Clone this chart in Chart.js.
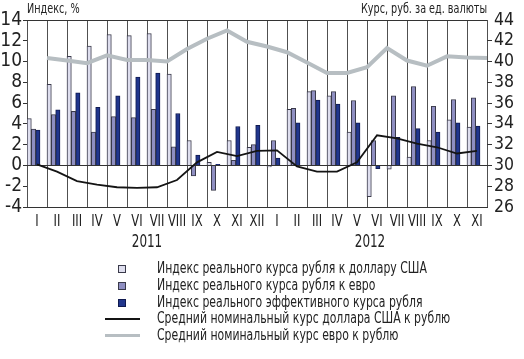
<!DOCTYPE html>
<html><head><meta charset="utf-8">
<script src="https://cdn.jsdelivr.net/npm/chart.js@4"></script>
<style>
html,body{margin:0;padding:0;background:#fff;}
#wrap{position:relative;width:524px;height:359px;overflow:hidden;}
canvas{display:block;}
#legend{position:absolute;left:0;top:0;width:524px;height:359px;font-family:'DejaVu Sans Condensed','DejaVu Sans',sans-serif;font-size:15.5px;color:#222;pointer-events:none;}
.item{position:absolute;left:0;height:17px;width:524px;}
.mk{position:absolute;box-sizing:border-box;}
.tx{position:absolute;left:157px;top:0;white-space:nowrap;line-height:17px;transform:scaleX(0.78);transform-origin:0 50%;}
</style></head><body>
<div id="wrap"><canvas id="c" width="524" height="359"></canvas><div id="legend"></div></div>
<script>
const FAM = "'DejaVu Sans Condensed','DejaVu Sans',sans-serif";
const months = ['I','II','III','IV','V','VI','VII','VIII','IX','X','XI','XII','I','II','III','IV','V','VI','VII','VIII','IX','X','XI'];
const years = ['2011','2012'];
const leftTicks = [-4,-2,0,2,4,6,8,10,12,14];
const rightTicks = [26,28,30,32,34,36,38,40,42,44];
const leftTitle = 'Индекс, %';
const rightTitle = 'Курс, руб. за ед. валюты';
const seriesNames = [
  'Индекс реального курса рубля к доллару США',
  'Индекс реального курса рубля к евро',
  'Индекс реального эффективного курса рубля',
  'Средний номинальный курс доллара США к рублю',
  'Средний номинальный курс евро к рублю'
];
const usdIndex = [4.5,7.8,10.5,11.5,12.6,12.5,12.7,8.8,2.4,0.3,2.4,1.75,-0.15,5.4,7.1,6.7,3.2,-3.0,-0.35,0.8,2.4,4.4,3.7];
const eurIndex = [3.5,4.9,5.2,3.2,4.7,4.6,5.4,1.8,-1.0,-2.4,0.5,2.0,2.4,5.5,7.2,7.1,6.25,2.4,6.7,7.6,5.7,6.35,6.5];
const effIndex = [3.4,5.35,7.0,5.6,6.7,8.5,8.9,5.0,1.0,0.1,3.75,3.85,0.7,4.1,6.3,5.9,4.1,-0.3,2.7,3.55,3.2,4.1,3.8];
const usdRate = [30.1,29.4,28.5,28.15,27.9,27.85,27.9,28.6,30.3,31.3,30.9,31.4,31.45,29.9,29.4,29.4,30.3,32.9,32.6,32.1,31.75,31.15,31.4];
const eurRate = [40.35,40.1,39.85,40.6,40.15,40.15,40.0,41.2,42.2,43.0,41.9,41.45,40.9,39.9,38.9,38.9,39.45,41.3,40.1,39.6,40.5,40.4,40.35];

const colors = {
  usdFill:'#dedeee', eurFill:'#8f8fc2', effFill:'#21368c',
  barBorder:'#3a3a4a', effBorder:'#101a50', usdLine:'#141414', eurLine:'#b7bec2'
};

// position of each bar inside its month cell (in month units, 0 = left edge of the cell)
const BAR_W = 4.33;
const barShift = [0.108, 0.325, 0.542];
const EUR_SHIFT = 1;
const barPts = (arr,s) => arr.map((v,i)=>({x:i+s,y:v}));
const eurPts = eurRate.map((v,i)=>({x:i+EUR_SHIFT,y:v}));

const datasets = [
  {type:'bar',label:seriesNames[0],data:barPts(usdIndex,barShift[0]),xAxisID:'xl',yAxisID:'y',backgroundColor:colors.usdFill,borderColor:colors.barBorder,borderWidth:1,order:2},
  {type:'bar',label:seriesNames[1],data:barPts(eurIndex,barShift[1]),xAxisID:'xl',yAxisID:'y',backgroundColor:colors.eurFill,borderColor:colors.barBorder,borderWidth:1,order:2},
  {type:'bar',label:seriesNames[2],data:barPts(effIndex,barShift[2]),xAxisID:'xl',yAxisID:'y',backgroundColor:colors.effFill,borderColor:colors.effBorder,borderWidth:1,order:2},
  {type:'line',label:seriesNames[3],data:usdRate,xAxisID:'x',yAxisID:'y2',borderColor:colors.usdLine,borderWidth:1.8,pointRadius:0,tension:0,order:0},
  {type:'line',label:seriesNames[4],data:eurPts,xAxisID:'xl',yAxisID:'y2',borderColor:colors.eurLine,borderWidth:4,pointRadius:0,tension:0,order:1}
];

const edge = (v,a,b)=>v===a||v===b;

function narrowText(ctx, txt, x, y, sx, align){
  ctx.save();
  ctx.translate(x, y);
  ctx.scale(sx, 1);
  ctx.textAlign = align;
  ctx.fillText(txt, 0, 0);
  ctx.restore();
}

const textPlugin = {
  id:'texts',
  afterDraw(chart){
    const ctx = chart.ctx, a = chart.chartArea, xl = chart.scales.xl, x = chart.scales.x;
    ctx.save();
    ctx.fillStyle = '#222';
    ctx.textBaseline = 'middle';
    ctx.font = '14.5px ' + FAM;
    narrowText(ctx, leftTitle, a.left, 9, 0.74, 'left');
    narrowText(ctx, rightTitle, a.right, 9, 0.74, 'right');
    ctx.font = '16.5px ' + FAM;
    months.forEach((m,i)=>narrowText(ctx, m, x.getPixelForValue(i), 222, 0.78, 'center'));
    ctx.font = '18px ' + FAM;
    narrowText(ctx, years[0], xl.getPixelForValue(6), 242, 0.74, 'center');
    narrowText(ctx, years[1], xl.getPixelForValue(17.15), 242, 0.74, 'center');
    ctx.restore();
  }
};

new Chart(document.getElementById('c'), {
  type:'bar',
  data:{labels:months, datasets},
  plugins:[textPlugin],
  options:{
    responsive:false, animation:false, devicePixelRatio:1,
    layout:{padding:{top:20,left:0,right:0,bottom:112}},
    plugins:{legend:{display:false},tooltip:{enabled:false}},
    datasets:{bar:{barThickness:BAR_W,grouped:false}},
    scales:{
      x:{type:'category',position:'bottom',offset:true,
         grid:{offset:true,color:'#505050',lineWidth:1,drawTicks:false},
         border:{display:true,color:'#333'},
         ticks:{display:false},
         afterFit(s){s.height=40;}},
      xl:{type:'linear',display:false,offset:false,min:0,max:23,ticks:{stepSize:1},grid:{offset:false}},
      y:{type:'linear',position:'left',min:-4,max:14,
         afterBuildTicks(s){s.ticks=leftTicks.map(v=>({value:v}));},
         grid:{color:c=>edge(c.tick.value,0,0)||edge(c.tick.value,-4,14)?'#333':'rgba(0,0,0,0)',
               tickColor:'#333',tickLength:4,lineWidth:1},
         border:{display:false},
         ticks:{font:{family:FAM,size:19},color:'#222',padding:1,autoSkip:false},
         afterFit(s){s.width=27;}},
      y2:{type:'linear',position:'right',min:26,max:44,
         afterBuildTicks(s){s.ticks=rightTicks.map(v=>({value:v}));},
         grid:{drawOnChartArea:false,tickLength:5,
               tickColor:c=>edge(c.tick.value,26,44)?'rgba(0,0,0,0)':'#333'},
         border:{display:false},
         ticks:{font:{family:FAM,size:17.5},color:'#222',padding:2,autoSkip:false},
         afterFit(s){s.width=37;}}
    }
  }
});

const lg = document.getElementById('legend');
const rowCenters = [268,285,302,318.5,335];
datasets.forEach((d,i)=>{
  const it = document.createElement('div');
  it.className='item'; it.style.top=(rowCenters[i]-8.5)+'px';
  const mk = document.createElement('div'); mk.className='mk';
  if(d.type==='bar'){
    mk.style.left='118px'; mk.style.top='5px'; mk.style.width='8px'; mk.style.height='8px';
    mk.style.background=d.backgroundColor; mk.style.border='1px solid '+d.borderColor;
  } else {
    const h = d.borderWidth>3?3:2;
    mk.style.left='105px'; mk.style.width='35px'; mk.style.height=h+'px';
    mk.style.top=(8.5-h/2)+'px'; mk.style.background=d.borderColor;
  }
  const tx = document.createElement('div'); tx.className='tx'; tx.textContent=d.label;
  it.appendChild(mk); it.appendChild(tx); lg.appendChild(it);
});
</script>
</body></html>
